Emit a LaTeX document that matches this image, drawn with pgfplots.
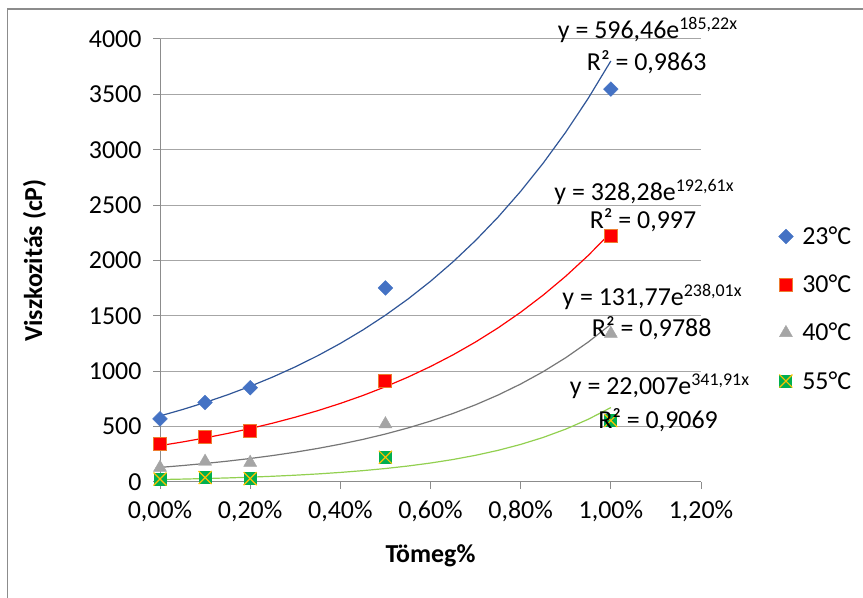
\documentclass[border=0pt]{standalone}
\usepackage{pgfplots}
\usepackage{pgfplotstable}
\pgfplotsset{compat=1.18}
\usepackage{fontspec}
\setmainfont{Carlito}

\definecolor{c23}{HTML}{4472C4}
\definecolor{c23l}{HTML}{2F5597}
\definecolor{c30}{HTML}{FF0000}
\definecolor{c30e}{HTML}{ED7D31}
\definecolor{c40}{HTML}{A5A5A5}
\definecolor{c40l}{HTML}{767676}
\definecolor{c55}{HTML}{00B050}
\definecolor{c55x}{HTML}{FFC000}
\definecolor{c55l}{HTML}{92D050}
\definecolor{gridc}{HTML}{A6A6A6}
\definecolor{axc}{HTML}{8C8C8C}

% green square with a yellow cross
\pgfdeclareplotmark{sqx}{%
  \pgfpathrectangle{\pgfqpoint{-\pgfplotmarksize}{-\pgfplotmarksize}}{\pgfqpoint{2\pgfplotmarksize}{2\pgfplotmarksize}}%
  \pgfsetfillcolor{c55}\pgfusepathqfill
  \pgfpathmoveto{\pgfqpoint{-\pgfplotmarksize}{-\pgfplotmarksize}}%
  \pgfpathlineto{\pgfqpoint{\pgfplotmarksize}{\pgfplotmarksize}}%
  \pgfpathmoveto{\pgfqpoint{-\pgfplotmarksize}{\pgfplotmarksize}}%
  \pgfpathlineto{\pgfqpoint{\pgfplotmarksize}{-\pgfplotmarksize}}%
  \pgfsetstrokecolor{c55x}\pgfsetlinewidth{1.2bp}\pgfusepathqstroke}

\newcommand\lbl{\fontsize{26}{30}\selectfont}
\newcommand\sups[1]{\raisebox{9bp}{\fontsize{18}{18}\selectfont #1}}

% measured viscosity (cP) vs. mass percent
\pgfplotstableread{
x    t23   t30   t40   t55
0.0  570   340   130   27
0.1  718   403   185   40
0.2  851   460   175   30
0.5  1752  911   523   223
1.0  3548  2220  1340  555
}\visc

\begin{document}
\begin{tikzpicture}[x=1bp,y=1bp]
\useasboundingbox (0,0) rectangle (863,598);
\draw[axc, line width=1.2bp] (7.5,0) -- (7.5,589) -- (863,589);
\begin{axis}[
  at={(160bp,116bp)}, anchor=south west,
  scale only axis, width=541bp, height=443bp,
  xmin=0, xmax=1.2, ymin=0, ymax=4000,
  axis lines=left,
  axis line style={-, axc, line width=1bp},
  xtick={0,0.2,0.4,0.6,0.8,1.0,1.2},
  xticklabels={{0,00\%},{0,20\%},{0,40\%},{0,60\%},{0,80\%},{1,00\%},{1,20\%}},
  ytick={0,500,1000,1500,2000,2500,3000,3500,4000},
  yticklabels={0,500,1000,1500,2000,2500,3000,3500,4000},
  tick align=outside, major tick length=7bp,
  tick style={axc, line width=1bp},
  ymajorgrids, grid style={gridc, line width=1bp},
  tick label style={font=\lbl},
  xticklabel style={yshift=-8bp},
  yticklabel style={xshift=-8bp},
  xlabel={Tömeg\%}, ylabel={Viszkozitás (cP)},
  label style={font=\lbl\bfseries},
  xlabel style={at={(axis description cs:0.5,-0.167)}, anchor=center},
  ylabel style={at={(axis description cs:-0.232,0.5)}, anchor=center},
  clip=false,
  legend style={at={(axis description cs:1.143,0.391)}, anchor=west,
    draw=none, fill=none, font=\lbl, row sep=25bp, inner sep=0pt,
    /tikz/every odd column/.append style={column sep=7bp}},
  legend cell align=left,
  legend image code/.code={\draw[#1,only marks] plot coordinates {(0bp,0bp)};},
]
% exponential trendlines y = a e^{b x}
\addplot[c23l, line width=1.2bp, forget plot] coordinates {
(0.00,596.46) (0.05,654.33) (0.10,717.82) (0.15,787.47) (0.20,863.88)
(0.25,947.70) (0.30,1039.66) (0.35,1140.54) (0.40,1251.21) (0.45,1372.62)
(0.50,1505.81) (0.55,1651.92) (0.60,1812.20) (0.65,1988.04) (0.70,2180.94)
(0.75,2392.56) (0.80,2624.71) (0.85,2879.39) (0.90,3158.78) (0.95,3465.28)
(1.00,3801.52)};
\addplot[c30, line width=1.2bp, forget plot] coordinates {
(0.00,328.28) (0.05,361.47) (0.10,398.01) (0.15,438.25) (0.20,482.55)
(0.25,531.33) (0.30,585.04) (0.35,644.18) (0.40,709.30) (0.45,781.01)
(0.50,859.97) (0.55,946.91) (0.60,1042.64) (0.65,1148.05) (0.70,1264.11)
(0.75,1391.91) (0.80,1532.63) (0.85,1687.57) (0.90,1858.18) (0.95,2046.03)
(1.00,2252.88)};
\addplot[c40l, line width=1.2bp, forget plot] coordinates {
(0.00,131.77) (0.05,148.42) (0.10,167.18) (0.15,188.31) (0.20,212.11)
(0.25,238.92) (0.30,269.11) (0.35,303.12) (0.40,341.43) (0.45,384.58)
(0.50,433.18) (0.55,487.92) (0.60,549.58) (0.65,619.03) (0.70,697.26)
(0.75,785.38) (0.80,884.63) (0.85,996.43) (0.90,1122.35) (0.95,1264.19)
(1.00,1423.95)};
\addplot[c55l, line width=1.2bp, forget plot] coordinates {
(0.00,22.007) (0.05,26.110) (0.10,30.978) (0.15,36.753) (0.20,43.605)
(0.25,51.735) (0.30,61.380) (0.35,72.824) (0.40,86.401) (0.45,102.51)
(0.50,121.62) (0.55,144.29) (0.60,171.19) (0.65,203.11) (0.70,240.98)
(0.75,285.91) (0.80,339.21) (0.85,402.45) (0.90,477.48) (0.95,566.50)
(1.00,672.11)};
% measured points
\addplot[only marks, mark=square*, mark size=5.2bp, mark options={rotate=45, fill=c23, draw=c23}] table[x=x, y=t23] {\visc};
\addplot[only marks, mark=square*, mark size=6.5bp, mark options={fill=c30, draw=c30e, line width=1bp}] table[x=x, y=t30] {\visc};
\addplot[only marks, mark=triangle*, mark size=7.5bp, mark options={fill=c40, draw=c40}] table[x=x, y=t40] {\visc};
\addplot[only marks, mark=sqx, mark size=6.5bp] table[x=x, y=t55] {\visc};
\legend{23°C, 30°C, 40°C, 55°C}
\end{axis}
% trendline equations
\node[font=\lbl] at (647.5,568) {y = 596,46e\sups{185,22x}};
\node[font=\lbl] at (646.7,536.3) {R² = 0,9863};
\node[font=\lbl] at (644,406.3) {y = 328,28e\sups{192,61x}};
\node[font=\lbl] at (643,378) {R² = 0,997};
\node[font=\lbl] at (652,301.3) {y = 131,77e\sups{238,01x}};
\node[font=\lbl] at (651.7,270) {R² = 0,9788};
\node[font=\lbl] at (659.5,211.3) {y = 22,007e\sups{341,91x}};
\node[font=\lbl] at (658,178) {R² = 0,9069};
\end{tikzpicture}
\end{document}
